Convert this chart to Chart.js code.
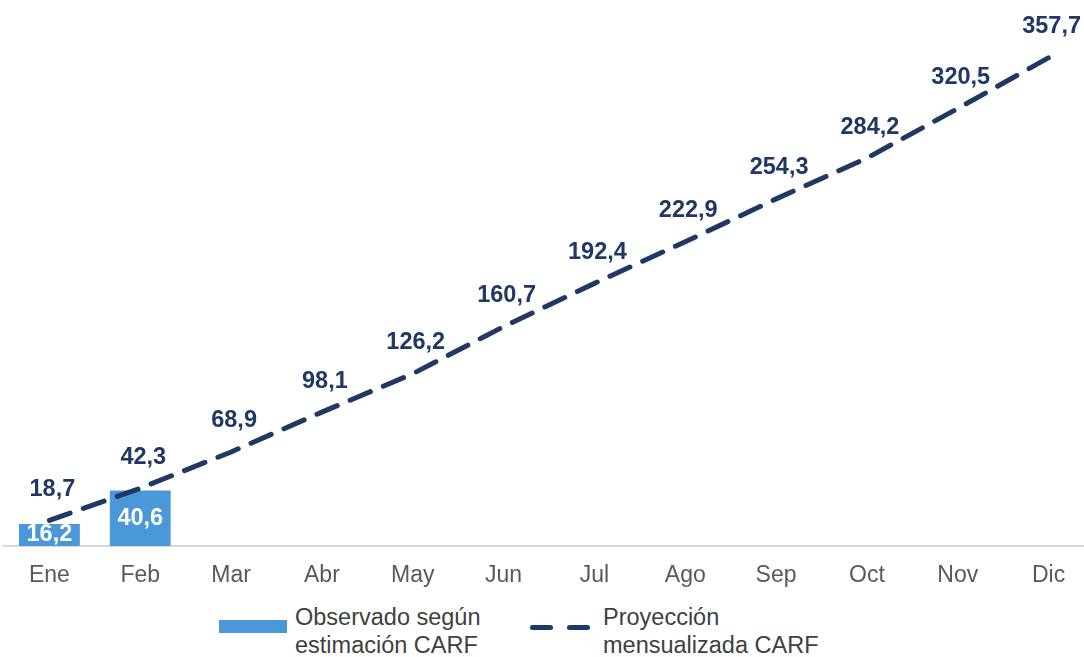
<!DOCTYPE html>
<html>
<head>
<meta charset="utf-8">
<script src="https://cdn.jsdelivr.net/npm/chart.js@4"></script>
<style>
  body { margin: 0; background: #fff; overflow: hidden; font-family: "Liberation Sans", Arial, sans-serif; }
  #wrap { position: relative; width: 1084px; height: 657px; overflow: hidden; }
  #wrap canvas { position: absolute; left: 0; top: 0; }
  .leg-text { position: absolute; font-size: 23.5px; line-height: 28px; color: #404040; }
  .leg-box { position: absolute; background: #4A98DA; }
  .leg-dash { position: absolute; height: 5px; background: #1F3864; border-radius: 3px; }
</style>
</head>
<body>
<div id="wrap">
  <canvas id="mychart" width="1094" height="600"></canvas>
  <div class="leg-box" style="left:219px;top:620px;width:68px;height:13px;"></div>
  <div class="leg-text" style="left:295px;top:603px;">Observado según<br>estimación CARF</div>
  <div class="leg-dash" style="left:530px;top:625px;width:23px;"></div>
  <div class="leg-dash" style="left:567px;top:625px;width:23px;"></div>
  <div class="leg-text" style="left:603px;top:603px;">Proyección<br>mensualizada CARF</div>
</div>
<script>
const months = ['Ene','Feb','Mar','Abr','May','Jun','Jul','Ago','Sep','Oct','Nov','Dic'];
const observado = [16.2, 40.6, null, null, null, null, null, null, null, null, null, null];
const proyeccion = [18.7, 42.3, 68.9, 98.1, 126.2, 160.7, 192.4, 222.9, 254.3, 284.2, 320.5, 357.7];

const fmt = v => v.toFixed(1).replace('.', ',');

// draws the value labels (no datalabels plugin available)
const valueLabels = {
  id: 'valueLabels',
  afterDatasetsDraw(chart) {
    const ctx = chart.ctx;
    ctx.save();
    ctx.font = 'bold 23.5px "Liberation Sans", Arial, sans-serif';
    ctx.textAlign = 'center';
    ctx.textBaseline = 'middle';
    const base = chart.scales.y.getPixelForValue(0);
    chart.getDatasetMeta(0).data.forEach((bar, i) => {
      if (observado[i] == null) return;
      ctx.fillStyle = '#fff';
      ctx.fillText(fmt(observado[i]), bar.x, Math.min(bar.y + 28, base - 11));
    });
    chart.getDatasetMeta(1).data.forEach((pt, i) => {
      ctx.fillStyle = '#1F3864';
      ctx.fillText(fmt(proyeccion[i]), pt.x + 3, pt.y - 31);
    });
    ctx.restore();
  }
};

const chart = document.getElementById('mychart').getContext('2d');
let carfChart = new Chart(chart, {
  type: 'bar',
  data: {
    labels: months,
    datasets: [
      {
        label: 'Observado según estimación CARF',
        data: observado,
        backgroundColor: '#4A98DA',
        categoryPercentage: 1,
        barPercentage: 0.67,
        order: 1
      },
      {
        type: 'line',
        label: 'Proyección mensualizada CARF',
        data: proyeccion,
        borderColor: '#1F3864',
        borderWidth: 5,
        borderDash: [22, 14],
        borderCapStyle: 'round',
        pointRadius: 0,
        tension: 0,
        fill: false,
        order: 0
      }
    ]
  },
  options: {
    responsive: false,
    animation: false,
    layout: { padding: { left: 4, right: 0, top: 0, bottom: 0 } },
    plugins: {
      legend: { display: false },
      tooltip: { enabled: false }
    },
    scales: {
      y: {
        display: false,
        min: 0,
        max: 400
      },
      x: {
        grid: { display: false, drawTicks: false },
        border: { display: true, color: '#D9D9D9', width: 2 },
        ticks: {
          color: '#595959',
          font: { size: 23, family: '"Liberation Sans", Arial, sans-serif' },
          padding: 16
        },
        afterFit(scale) { scale.height = 54; }
      }
    }
  },
  plugins: [valueLabels]
});
</script>
</body>
</html>
